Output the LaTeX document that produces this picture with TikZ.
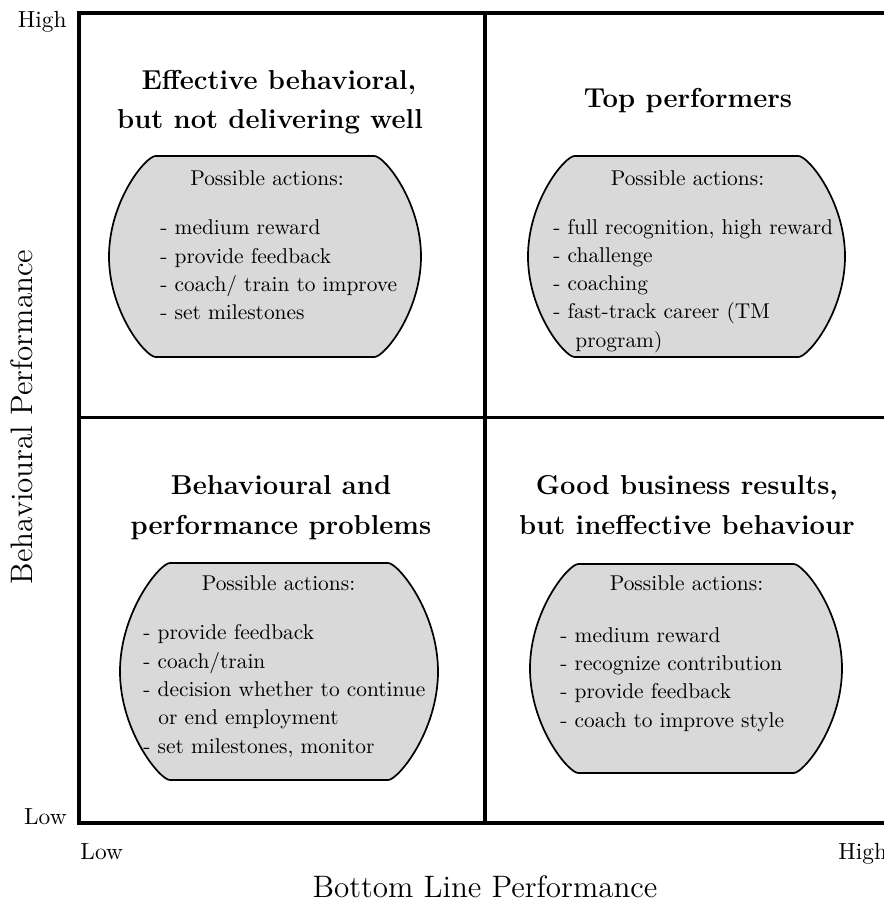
\documentclass[tikz,border=0pt]{standalone}
\usepackage{fontspec}
\definecolor{boxgray}{RGB}{217,217,217}
\newcommand\U{0.4673pt}
% #1 = node name, #2 = half height in px
\newcommand\actshape[2]{%
 \path[actline] ([xshift={(0.4142*#2+5)*\U}]#1.north west) -- ([xshift={-(0.4142*#2+5)*\U}]#1.north east)
   .. controls ([xshift={-(0.4142*#2-5)*\U}]#1.north east) and ([yshift={0.55*#2*\U}]#1.east) .. (#1.east)
   .. controls ([yshift={-0.55*#2*\U}]#1.east) and ([xshift={-(0.4142*#2-5)*\U}]#1.south east) .. ([xshift={-(0.4142*#2+5)*\U}]#1.south east)
   -- ([xshift={(0.4142*#2+5)*\U}]#1.south west)
   .. controls ([xshift={(0.4142*#2-5)*\U}]#1.south west) and ([yshift={-0.55*#2*\U}]#1.west) .. (#1.west)
   .. controls ([yshift={0.55*#2*\U}]#1.west) and ([xshift={(0.4142*#2-5)*\U}]#1.north west) .. cycle;}
\begin{document}
\begin{tikzpicture}[x=0.4673pt,y=-0.4673pt,
  actarea/.style={rectangle, draw=none, inner sep=0pt, outer sep=0pt},
  actline/.style={draw=black, line width=0.8pt, fill=boxgray},
  gridline/.style={line width=1.55pt},
  txt/.style={inner sep=0pt, anchor=base west, font=\fontsize{10}{12}\selectfont},
  patxt/.style={inner sep=0pt, anchor=base, font=\fontsize{10}{12}\selectfont},
  ttl/.style={inner sep=0pt, anchor=base, font=\fontsize{12.8}{15}\selectfont\bfseries},
  tick/.style={inner sep=0pt, font=\fontsize{10.9}{13}\selectfont},
  axlab/.style={inner sep=0pt, anchor=base, font=\fontsize{14.5}{17}\selectfont}]
\useasboundingbox (0,0) rectangle (884,905);
\clip (0,0) rectangle (884,905);

% grid
\coordinate (NW) at (79,13);
\coordinate (SE) at (891,823);
\coordinate (Mtop) at (485,13);
\coordinate (Mbot) at (485,823);
\coordinate (Wmid) at (79,417.5);
\coordinate (Emid) at (891,417.5);
\draw[gridline] (NW) rectangle (SE);
\draw[gridline] (Mtop) -- (Mbot);
\draw[gridline] (Wmid) -- (Emid);

% axis labels
\node[tick, anchor=base east] (yhigh) at (67,27) {High};
\node[tick, anchor=base east] (ylow) at (67,824) {Low};
\node[tick, anchor=base west] (xlow) at (80,859) {Low};
\node[tick, anchor=base west] (xhigh) at (838,859) {High};
\node[axlab] (xlab) at (485,897) {Bottom Line Performance};
\node[axlab, rotate=90] (ylab) at (32,417) {Behavioural Performance};

% titles
\node[ttl] (t1a) at (279,89) {Effective behavioral,};
\node[ttl] (t1b) at (270,128) {but not delivering well};
\node[ttl] (t2) at (688,107) {Top performers};
\node[ttl] (t3a) at (281,494) {Behavioural and};
\node[ttl] (t3b) at (281,534) {performance problems};
\node[ttl] (t4a) at (687,494) {Good business results,};
\node[ttl] (t4b) at (687,534) {but ineffective behaviour};

% boxes
\node[actarea, minimum width=312*\U, minimum height=201*\U] (b1) at (265,256.5) {};
\node[actarea, minimum width=317*\U, minimum height=201*\U] (b2) at (686.5,256.5) {};
\node[actarea, minimum width=318*\U, minimum height=217*\U] (b3) at (279,671.5) {};
\node[actarea, minimum width=312*\U, minimum height=209*\U] (b4) at (686,668.5) {};
\actshape{b1}{100.5}
\actshape{b2}{100.5}
\actshape{b3}{108.5}
\actshape{b4}{104.5}

% box 1
\node[patxt] (p1) at (267,185.7) {Possible actions:};
\node[txt] (i11) at (160,234.7) {- medium reward};
\node[txt] (i12) at (160,263) {- provide feedback};
\node[txt] (i13) at (160,291.3) {- coach/ train to improve};
\node[txt] (i14) at (160,319.7) {- set milestones};

% box 2
\node[patxt] (p2) at (687.5,185.7) {Possible actions:};
\node[txt] (i21) at (553,234) {- full recognition, high reward};
\node[txt] (i22) at (553,262.3) {- challenge};
\node[txt] (i23) at (553,290.6) {- coaching};
\node[txt] (i24) at (553,318.9) {- fast-track career (TM};
\node[txt] (i25) at (575,347.2) {program)};

% box 3
\node[patxt] (p3) at (278.5,590.7) {Possible actions:};
\node[txt] (i31) at (143,639.7) {- provide feedback};
\node[txt] (i32) at (143,668) {- coach/train};
\node[txt] (i33) at (143,696.3) {- decision whether to continue};
\node[txt] (i34) at (158,724.7) {or end employment};
\node[txt] (i35) at (143,753) {- set milestones, monitor};

% box 4
\node[patxt] (p4) at (686.5,590.7) {Possible actions:};
\node[txt] (i41) at (560,642) {- medium reward};
\node[txt] (i42) at (560,670.3) {- recognize contribution};
\node[txt] (i43) at (560,698.6) {- provide feedback};
\node[txt] (i44) at (560,727) {- coach to improve style};
\end{tikzpicture}
\end{document}
